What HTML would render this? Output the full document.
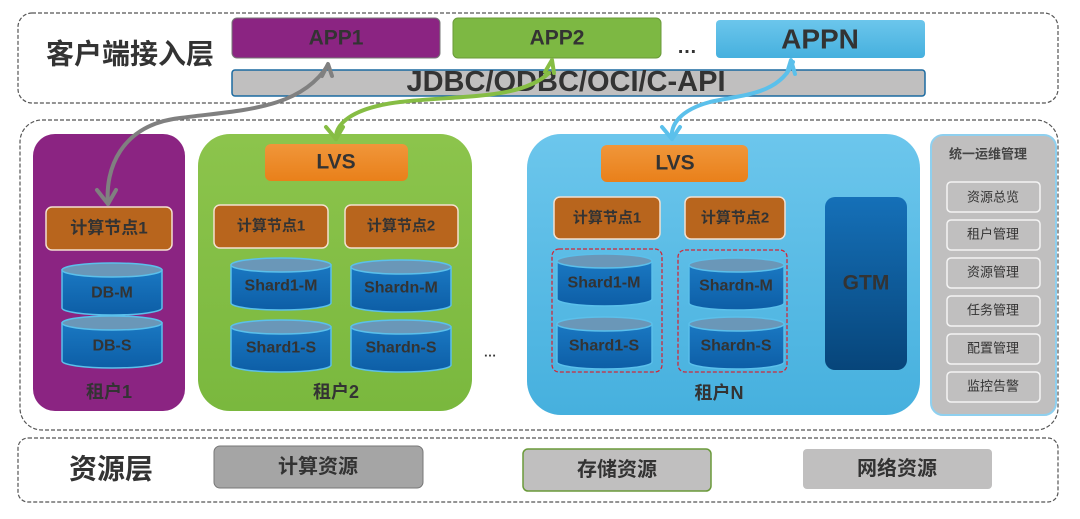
<!DOCTYPE html>
<html><head><meta charset="utf-8"><style>
html,body{margin:0;padding:0;background:#fff;width:1080px;height:519px;overflow:hidden}
svg text{font-family:"Liberation Sans","Noto Sans CJK SC",sans-serif;font-weight:bold;fill:#333;text-anchor:middle;dominant-baseline:central}
</style></head><body>
<svg width="1080" height="519" viewBox="0 0 1080 519" xmlns="http://www.w3.org/2000/svg">
<defs>
<linearGradient id="cyl" x1="0" y1="0" x2="0" y2="1"><stop offset="0" stop-color="#1a78c2"/><stop offset="1" stop-color="#0d5ea6"/></linearGradient>
<linearGradient id="org" x1="0" y1="0" x2="0" y2="1"><stop offset="0" stop-color="#f0963a"/><stop offset="1" stop-color="#e9801a"/></linearGradient>
<linearGradient id="gtm" x1="0" y1="0" x2="0" y2="1"><stop offset="0" stop-color="#1570b8"/><stop offset="1" stop-color="#07457a"/></linearGradient>
<linearGradient id="blu" x1="0" y1="0" x2="0" y2="1"><stop offset="0" stop-color="#6cc6ec"/><stop offset="1" stop-color="#46b0de"/></linearGradient>
<linearGradient id="grn" x1="0" y1="0" x2="0" y2="1"><stop offset="0" stop-color="#8cc44c"/><stop offset="1" stop-color="#7ab83e"/></linearGradient>
<g id="c100">
<path d="M0,7 V45 A50,7 0 0 0 100,45 V7 Z" fill="url(#cyl)" stroke="#5bc0eb" stroke-width="1.5"/>
<ellipse cx="50" cy="7" rx="50" ry="7" fill="#6a97b8" stroke="#5bc0eb" stroke-width="1.5"/>
</g>
</defs>

<rect x="18" y="13" width="1040" height="90" rx="14" fill="none" stroke="#555" stroke-width="1.2" stroke-dasharray="4,2"/>
<text x="130" y="54" style="font-size:28px">客户端接入层</text>
<rect x="232" y="18" width="208" height="40" rx="5" fill="#8b2482" stroke="#777" stroke-width="1"/>
<text x="336" y="38" style="font-size:21px">APP1</text>
<rect x="453" y="18" width="208" height="40" rx="5" fill="#7db843" stroke="#6a9a3a" stroke-width="1"/>
<text x="557" y="38" style="font-size:21px">APP2</text>
<text x="687" y="47" style="font-size:20px">…</text>
<rect x="716" y="20" width="209" height="38" rx="4" fill="url(#blu)"/>
<text x="820" y="39" style="font-size:28px">APPN</text>
<rect x="232" y="70" width="693" height="26" rx="3" fill="#c0bfbf" stroke="#1b6aa0" stroke-width="1.5"/>
<text x="566" y="82" style="font-size:29px">JDBC/ODBC/OCI/C-API</text>

<rect x="20" y="120" width="1038" height="310" rx="22" fill="none" stroke="#555" stroke-width="1.2" stroke-dasharray="4,2"/>

<rect x="33" y="134" width="152" height="277" rx="22" fill="#8b2482"/>
<rect x="46" y="207" width="126" height="43" rx="6" fill="#b8651d" stroke="#f3e0d0" stroke-width="1.5"/>
<text x="109" y="228" style="font-size:17px">计算节点1</text>
<use href="#c100" x="62" y="263"/><text x="112" y="293" style="font-size:16px">DB-M</text>
<use href="#c100" x="62" y="316"/><text x="112" y="346" style="font-size:16px">DB-S</text>
<text x="109" y="392" style="font-size:18px">租户1</text>

<rect x="198" y="134" width="274" height="277" rx="32" fill="url(#grn)"/>
<rect x="265" y="144" width="143" height="37" rx="6" fill="url(#org)"/>
<text x="336" y="162" style="font-size:21px">LVS</text>
<rect x="214" y="205" width="114" height="43" rx="6" fill="#b8651d" stroke="#f3e0d0" stroke-width="1.5"/>
<text x="271" y="226" style="font-size:15px">计算节点1</text>
<rect x="345" y="205" width="113" height="43" rx="6" fill="#b8651d" stroke="#f3e0d0" stroke-width="1.5"/>
<text x="401" y="226" style="font-size:15px">计算节点2</text>
<use href="#c100" x="231" y="258"/><text x="281" y="286" style="font-size:16px">Shard1-M</text>
<use href="#c100" x="351" y="260"/><text x="401" y="288" style="font-size:16px">Shardn-M</text>
<use href="#c100" x="231" y="320"/><text x="281" y="348" style="font-size:16px">Shard1-S</text>
<use href="#c100" x="351" y="320"/><text x="401" y="348" style="font-size:16px">Shardn-S</text>
<text x="336" y="392" style="font-size:18px">租户2</text>
<text x="490" y="352" style="font-size:13px">…</text>

<rect x="527" y="134" width="393" height="281" rx="34" fill="url(#blu)"/>
<rect x="601" y="145" width="147" height="37" rx="6" fill="url(#org)"/>
<text x="675" y="163" style="font-size:21px">LVS</text>
<rect x="554" y="197" width="106" height="42" rx="6" fill="#b8651d" stroke="#f3e0d0" stroke-width="1.5"/>
<text x="607" y="218" style="font-size:15px">计算节点1</text>
<rect x="685" y="197" width="100" height="42" rx="6" fill="#b8651d" stroke="#f3e0d0" stroke-width="1.5"/>
<text x="735" y="218" style="font-size:15px">计算节点2</text>
<rect x="552" y="249" width="110" height="123" rx="7" fill="none" stroke="#d0293a" stroke-width="1.3" stroke-dasharray="4,2"/>
<rect x="678" y="250" width="109" height="122" rx="7" fill="none" stroke="#d0293a" stroke-width="1.3" stroke-dasharray="4,2"/>
<use href="#c100" x="557" y="254" transform="translate(557,254) scale(0.95,1) translate(-557,-254)"/><text x="604" y="283" style="font-size:16px">Shard1-M</text>
<use href="#c100" x="557" y="317" transform="translate(557,317) scale(0.95,1) translate(-557,-317)"/><text x="604" y="346" style="font-size:16px">Shard1-S</text>
<use href="#c100" x="689" y="258" transform="translate(689,258) scale(0.95,1) translate(-689,-258)"/><text x="736" y="286" style="font-size:16px">Shardn-M</text>
<use href="#c100" x="689" y="317" transform="translate(689,317) scale(0.95,1) translate(-689,-317)"/><text x="736" y="346" style="font-size:16px">Shardn-S</text>
<rect x="825" y="197" width="82" height="173" rx="10" fill="url(#gtm)"/>
<text x="866" y="283" style="font-size:21px">GTM</text>
<text x="719" y="393" style="font-size:18px">租户N</text>

<rect x="931" y="135" width="125" height="280" rx="12" fill="#c0bfbf" stroke="#8fd0ef" stroke-width="2"/>
<text x="988" y="154" style="font-size:13px;fill:#444">统一运维管理</text>
<g style="font-size:13px">
<rect x="947" y="182" width="93" height="30" rx="4" fill="#c0bfbf" stroke="#f4f4f4" stroke-width="1.5"/><text x="993" y="197" style="font-weight:normal">资源总览</text>
<rect x="947" y="220" width="93" height="30" rx="4" fill="#c0bfbf" stroke="#f4f4f4" stroke-width="1.5"/><text x="993" y="234" style="font-weight:normal">租户管理</text>
<rect x="947" y="258" width="93" height="30" rx="4" fill="#c0bfbf" stroke="#f4f4f4" stroke-width="1.5"/><text x="993" y="272" style="font-weight:normal">资源管理</text>
<rect x="947" y="296" width="93" height="30" rx="4" fill="#c0bfbf" stroke="#f4f4f4" stroke-width="1.5"/><text x="993" y="310" style="font-weight:normal">任务管理</text>
<rect x="947" y="334" width="93" height="30" rx="4" fill="#c0bfbf" stroke="#f4f4f4" stroke-width="1.5"/><text x="993" y="348" style="font-weight:normal">配置管理</text>
<rect x="947" y="372" width="93" height="30" rx="4" fill="#c0bfbf" stroke="#f4f4f4" stroke-width="1.5"/><text x="993" y="386" style="font-weight:normal">监控告警</text>
</g>

<rect x="18" y="438" width="1040" height="64" rx="10" fill="none" stroke="#555" stroke-width="1.2" stroke-dasharray="4,2"/>
<text x="111" y="469" style="font-size:28px">资源层</text>
<rect x="214" y="446" width="209" height="42" rx="6" fill="#a5a5a5" stroke="#777" stroke-width="1"/>
<text x="318" y="467" style="font-size:20px">计算资源</text>
<rect x="523" y="449" width="188" height="42" rx="5" fill="#c0bfbf" stroke="#6a9a3a" stroke-width="1.5"/>
<text x="617" y="470" style="font-size:20px">存储资源</text>
<rect x="803" y="449" width="189" height="40" rx="4" fill="#c0bfbf"/>
<text x="897" y="469" style="font-size:20px">网络资源</text>

<g fill="none" stroke-width="4" stroke-linecap="round" stroke-linejoin="round">
<path d="M328,65 C300,110 240,110 180,118 C120,125 105,170 108,204" stroke="#808080"/>
<path d="M97,190 L108,204 L116,190" stroke="#808080"/>
<path d="M322,76 L328,64 L332,76" stroke="#808080"/>
<path d="M549,73 C520,100 460,95 400,102 C350,108 335,125 336,139" stroke="#86bd44"/>
<path d="M326,127 L336,139 L343,127" stroke="#86bd44"/>
<path d="M545,72 L552,60 L554,73" stroke="#86bd44"/>
<path d="M793,62 C780,95 740,95 710,102 C680,110 670,125 672,139" stroke="#5bc0eb"/>
<path d="M662,127 L672,139 L680,127" stroke="#5bc0eb"/>
<path d="M787,73 L791,60 L795,74" stroke="#5bc0eb"/>
</g>
</svg>
</body></html>
